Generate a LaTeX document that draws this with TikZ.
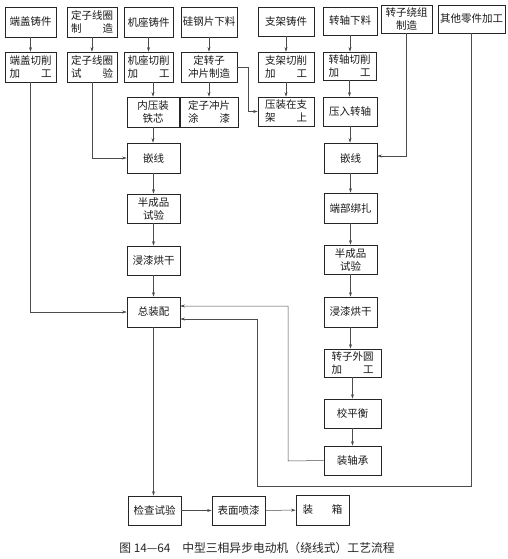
\documentclass[tikz,border=0pt]{standalone}
\usepackage{fontspec}
\newfontfamily\cjk{Noto Sans CJK SC}
\usetikzlibrary{arrows.meta}
\newcommand\jt[2]{\makebox[4em]{#1\hfill#2}}
\begin{document}
\begin{tikzpicture}[x=1pt,y=-1pt,
  bx/.style={draw=black!85, line width=0.65pt, inner sep=0pt, align=center,
    font=\cjk\fontsize{10.5}{13}\selectfont, text=black!90},
  wh/.style 2 args={minimum width=#1pt, minimum height=#2pt},
  ar/.style={draw=black!70, line width=0.5pt, -{Stealth[length=4.5pt,width=3pt]}},
  captext/.style={font=\cjk\fontsize{11.8}{13}\selectfont, text=black!85}]
\useasboundingbox (0,0) rectangle (508,559);
\fill[white] (0,0) rectangle (508,559);
% row 1
\node[bx,wh={51}{30}] (a1) at (30.5,22) {端盖铸件};
\node[bx,wh={50}{30}] (b1) at (92,22) {定子线圈\\\jt{制}{造}};
\node[bx,wh={49}{30}] (c1) at (148.5,22) {机座铸件};
\node[bx,wh={56}{30}] (d1) at (209,22) {硅钢片下料};
\node[bx,wh={56}{29}] (e1) at (286,21.5) {支架铸件};
\node[bx,wh={54}{28}] (f1) at (350,21) {转轴下料};
\node[bx,wh={51}{28}] (g1) at (406.5,19) {转子绕组\\制造};
\node[bx,wh={67}{28}] (h1) at (471.5,19) {其他零件加工};
% row 2
\node[bx,wh={51}{30}] (a2) at (30.5,67) {端盖切削\\\jt{加}{工}};
\node[bx,wh={50}{30}] (b2) at (92,67) {定子线圈\\\jt{试}{验}};
\node[bx,wh={49}{30}] (c2) at (148.5,67) {机座切削\\\jt{加}{工}};
\node[bx,wh={56}{30}] (d2) at (209,67) {定转子\\冲片制造};
\node[bx,wh={56}{30}] (e2) at (286,67) {支架切削\\\jt{加}{工}};
\node[bx,wh={53}{28}] (f2) at (349.5,66) {转轴切削\\\jt{加}{工}};
% row 3
\node[bx,wh={52}{30}] (c3) at (153,112) {内压装\\铁芯};
\node[bx,wh={58}{30}] (d3) at (209,112) {定子冲片\\\jt{涂}{漆}};
\node[bx,wh={56}{29}] (e3) at (286,111.5) {压装在支\\\jt{架}{上}};
\node[bx,wh={54}{29}] (f3) at (350,111.5) {压入转轴};
% left column
\node[bx,wh={53}{30}] (L4) at (153.5,158) {嵌线};
\node[bx,wh={53}{29}] (L5) at (153.5,208.5) {半成品\\试验};
\node[bx,wh={53}{29}] (L6) at (153.5,260.5) {浸漆烘干};
\node[bx,wh={53}{30}] (L7) at (153.5,312) {总装配};
\node[bx,wh={53}{29}] (L8) at (154.5,510.5) {检查试验};
\node[bx,wh={53}{29}] (S) at (238.5,510.5) {表面喷漆};
\node[bx,wh={53}{30}] (Z) at (322.5,510) {\makebox[3.8em]{装\hfill 箱}};
% right column
\node[bx,wh={53}{30}] (R4) at (350.5,158) {嵌线};
\node[bx,wh={53}{30}] (R5) at (350.5,208) {端部绑扎};
\node[bx,wh={53}{29}] (R6) at (350.5,259.5) {半成品\\试验};
\node[bx,wh={53}{30}] (R7) at (350.5,312) {浸漆烘干};
\node[bx,wh={57}{28}] (R8) at (352.5,363) {转子外圆\\\jt{加}{工}};
\node[bx,wh={57}{29}] (R9) at (352.5,413.5) {校平衡};
\node[bx,wh={57}{29}] (R10) at (352.5,460.5) {装轴承};
% caption
\node[captext] (caption) at (257,548) {图 14—64\quad 中型三相异步电动机（绕线式）工艺流程};
% coordinates
\coordinate (k1) at (248,67);
\coordinate (k2) at (288,461);
\coordinate (k3) at (257,486);
% vertical arrows
\foreach \u/\v in {a1/a2,b1/b2,c1/c2,d1/d2,e1/e2,f1/f2,d2/d3,e2/e3,f2/f3,c3/L4,f3/R4,
  L4/L5,L5/L6,L6/L7,L7/L8,R4/R5,R5/R6,R6/R7,R9/R10}
  \draw[ar] (\u.south) -- (\u.south |- \v.north);
\draw[ar] (R7.south) -- (R7.south |- R8.north);
\draw[ar] (R8.south) -- (R8.south |- R9.north);
\draw[ar] (c2.south -| c3) -- (c3.north);
% other connectors
\draw[ar] (a2.south) |- (L7.west);
\draw[ar] (b2.south) |- (L4.west);
\draw[ar] (d2.east) -- (k1) |- (e3.west);
\draw[ar] (g1.south) |- ([yshift=2pt]R4.east);
\draw[ar] (R10.west) -- (k2) |- ([yshift=6pt]L7.east);
\draw[ar] (h1.south) |- (k3) |- ([yshift=-7pt]L7.east);
\draw[ar] (L8) -- (S);
\draw[ar] (S) -- (Z);
\end{tikzpicture}
\end{document}
